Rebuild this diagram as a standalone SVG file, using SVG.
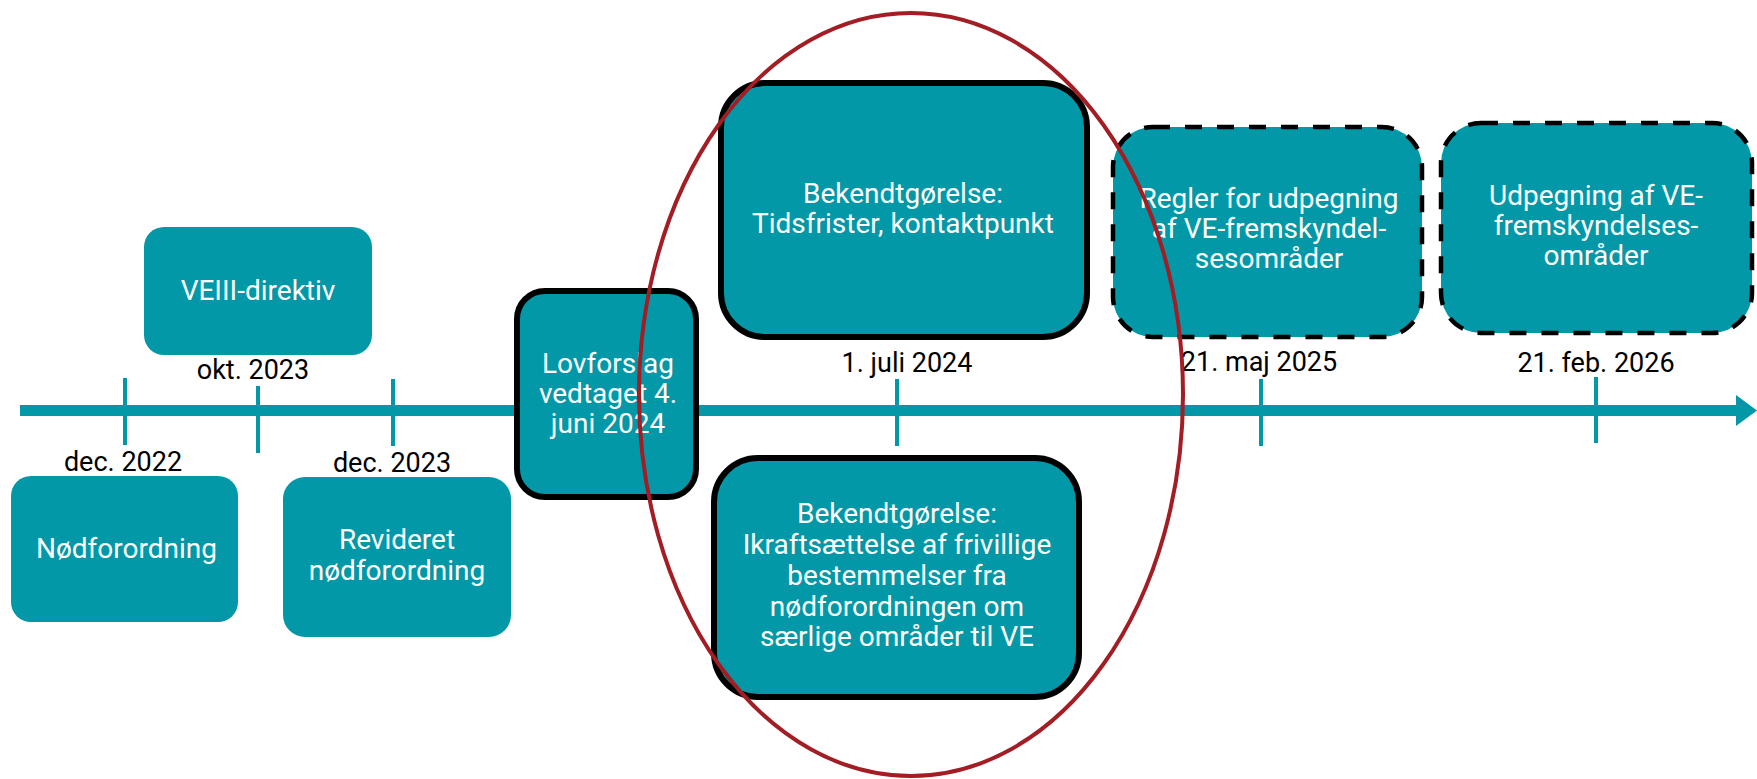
<svg xmlns="http://www.w3.org/2000/svg" width="1757" height="779" viewBox="0 0 1757 779">
<style>
.box{fill:#0298a8;}
.solid{stroke:#000;stroke-width:6;}
.dash{stroke:#000;stroke-width:4.5;stroke-dasharray:17 15;}
.bt{font-family:Roboto,"Liberation Sans",sans-serif;font-size:28px;fill:#fff;text-anchor:middle;}
.dt{font-family:Roboto,"Liberation Sans",sans-serif;font-size:27px;fill:#000;text-anchor:middle;}
.tick{stroke:#0298a8;stroke-width:4;}
</style>
<rect width="1757" height="779" fill="#fff"/>
<g id="connectors">
<line x1="20" y1="410.5" x2="1738" y2="410.5" stroke="#0298a8" stroke-width="11"/>
<polygon points="1736,395 1757,410.5 1736,426" fill="#0298a8"/>
<line class="tick" x1="125" y1="378" x2="125" y2="445"/>
<line class="tick" x1="258" y1="386" x2="258" y2="453"/>
<line class="tick" x1="393" y1="379" x2="393" y2="446"/>
<line class="tick" x1="897" y1="379" x2="897" y2="446"/>
<line class="tick" x1="1261" y1="379" x2="1261" y2="446"/>
<line class="tick" x1="1596" y1="377" x2="1596" y2="443"/>
</g>
<g id="dates">
<text class="dt" x="253" y="379">okt. 2023</text>
<text class="dt" x="123" y="471">dec. 2022</text>
<text class="dt" x="392" y="472">dec. 2023</text>
<text class="dt" x="907" y="372">1. juli 2024</text>
<text class="dt" x="1259" y="371">21. maj 2025</text>
<text class="dt" x="1596" y="372">21. feb. 2026</text>
</g>
<g id="node-veiii">
<rect class="box" x="144" y="227" width="228" height="128" rx="20"/>
<text class="bt" x="258" y="300">VEIII-direktiv</text>
</g>
<g id="node-nodforordning">
<rect class="box" x="11" y="476" width="227" height="146" rx="20"/>
<text class="bt" x="126.5" y="558">Nødforordning</text>
</g>
<g id="node-revideret">
<rect class="box" x="283" y="477" width="228" height="160" rx="22"/>
<text class="bt" x="397" y="549">Revideret</text>
<text class="bt" x="397" y="580">nødforordning</text>
</g>
<g id="node-lovforslag">
<rect class="box solid" x="517" y="291" width="179" height="206" rx="28"/>
<text class="bt" x="608" y="373">Lovforslag</text>
<text class="bt" x="608" y="403">vedtaget 4.</text>
<text class="bt" x="608" y="433">juni 2024</text>
</g>
<g id="node-bek1">
<rect class="box solid" x="721" y="83" width="366" height="254" rx="44"/>
<text class="bt" x="903" y="203">Bekendtgørelse:</text>
<text class="bt" x="903" y="233">Tidsfrister, kontaktpunkt</text>
</g>
<g id="node-bek2">
<rect class="box solid" x="714" y="458" width="365" height="239" rx="44"/>
<text class="bt" x="897" y="523">Bekendtgørelse:</text>
<text class="bt" x="897" y="554">Ikraftsættelse af frivillige</text>
<text class="bt" x="897" y="585">bestemmelser fra</text>
<text class="bt" x="897" y="616">nødforordningen om</text>
<text class="bt" x="897" y="646">særlige områder til VE</text>
</g>
<g id="node-regler">
<rect class="box dash" x="1113" y="127" width="309" height="210" rx="40"/>
<text class="bt" x="1269" y="208">Regler for udpegning</text>
<text class="bt" x="1269" y="238">af VE-fremskyndel-</text>
<text class="bt" x="1269" y="268">sesområder</text>
</g>
<g id="node-udpegning">
<rect class="box dash" x="1441" y="123" width="311" height="210" rx="40"/>
<text class="bt" x="1596" y="205">Udpegning af VE-</text>
<text class="bt" x="1596" y="235">fremskyndelses-</text>
<text class="bt" x="1596" y="265">områder</text>
</g>
<g id="highlight">
<ellipse cx="911" cy="394.5" rx="272" ry="381.5" fill="none" stroke="#a31d24" stroke-width="4"/>
</g>
</svg>
